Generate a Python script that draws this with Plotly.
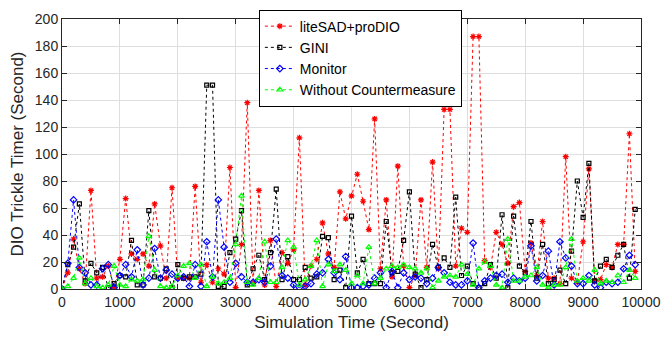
import plotly.graph_objects as go

# Simulation time (seconds): samples every 100 s
time_s = list(range(0, 10000, 100))

litesad_prodio = [0, 12, 37, 15, 4, 73, 8, 9, 17, 1,
                  22, 67, 26, 22, 26, 17, 63, 32, 8, 75,
                  8, 8, 8, 76, 5, 18, 5, 15, 11, 90,
                  1, 33, 138, 4, 73, 3, 36, 2, 27, 19,
                  29, 112, 3, 17, 22, 49, 26, 16, 72, 52,
                  69, 85, 65, 44, 126, 15, 66, 9, 91, 17,
                  1, 10, 66, 16, 94, 15, 133, 133, 17, 45,
                  42, 187, 187, 21, 16, 42, 33, 19, 61, 64,
                  13, 34, 10, 50, 8, 8, 4, 98, 8, 5,
                  35, 89, 6, 7, 18, 16, 33, 33, 115, 13]

gini = [0, 18, 31, 63, 6, 19, 12, 16, 1, 4,
        10, 9, 36, 3, 3, 58, 9, 8, 15, 1,
        18, 8, 9, 9, 11, 151, 151, 2, 2, 27,
        37, 58, 3, 15, 25, 7, 27, 74, 7, 24,
        7, 7, 16, 8, 9, 39, 38, 7, 14, 1,
        54, 12, 22, 4, 4, 4, 50, 12, 13, 36,
        72, 11, 1, 7, 33, 16, 23, 16, 68, 10,
        17, 4, 1, 4, 18, 8, 55, 1, 54, 17,
        12, 50, 8, 33, 4, 7, 14, 4, 28, 80,
        53, 93, 6, 17, 22, 16, 25, 33, 8, 59]

monitor = [0, 19, 66, 16, 12, 3, 3, 15, 18, 1,
           10, 18, 9, 29, 3, 8, 30, 8, 14, 11,
           8, 9, 2, 18, 2, 35, 9, 66, 31, 5,
           19, 9, 5, 5, 7, 5, 17, 37, 10, 8,
           3, 1, 2, 4, 11, 12, 22, 12, 7, 24,
           1, 1, 2, 3, 8, 12, 1, 13, 1, 12,
           7, 9, 8, 4, 8, 16, 12, 5, 3, 3,
           6, 34, 1, 6, 8, 10, 11, 5, 8, 6,
           8, 32, 6, 10, 28, 3, 35, 23, 17, 4,
           4, 10, 3, 1, 5, 4, 5, 15, 25, 18]

without_cm = [0, 2, 8, 23, 4, 8, 2, 1, 3, 17,
              3, 2, 7, 6, 7, 39, 14, 2, 1, 2,
              10, 17, 19, 8, 18, 2, 9, 4, 5, 8,
              33, 69, 5, 3, 8, 35, 5, 5, 16, 36,
              31, 3, 7, 17, 36, 2, 18, 13, 18, 14,
              4, 10, 4, 31, 4, 8, 15, 17, 16, 18,
              16, 15, 12, 15, 1, 6, 9, 10, 9, 18,
              11, 3, 15, 20, 17, 3, 1, 37, 6, 6,
              9, 10, 16, 3, 1, 3, 3, 16, 37, 6,
              8, 6, 14, 4, 6, 5, 10, 5, 14, 8]

series_names = ["liteSAD+proDIO", "GINI", "Monitor", "Without Countermeasure"]
x_ticks = list(range(0, 10001, 1000))
y_ticks = list(range(0, 201, 20))

styles = [
    dict(color="#FF0000", symbol="asterisk-open", size=5),
    dict(color="#000000", symbol="square-open", size=4),
    dict(color="#0000FF", symbol="diamond-open", size=5),
    dict(color="#00FF00", symbol="triangle-up-open", size=5),
]

fig = go.Figure()
for name, vals, st in zip(series_names, [litesad_prodio, gini, monitor, without_cm], styles):
    fig.add_trace(go.Scatter(
        x=time_s, y=vals, name=name, mode="lines+markers",
        line=dict(color=st["color"], width=1, dash="dot"),
        marker=dict(symbol=st["symbol"], size=st["size"], color=st["color"],
                    line=dict(color=st["color"], width=1.2)),
    ))

axis_common = dict(
    showline=True, linecolor="#262626", linewidth=1, mirror="ticks",
    ticks="inside", ticklen=5, tickcolor="#262626",
    showgrid=True, gridcolor="#dedede", gridwidth=1,
    zeroline=False,
    tickfont=dict(family="Liberation Sans, Arial", size=14, color="#262626"),
)

fig.update_xaxes(range=[0, 10000], tickvals=x_ticks, ticktext=[str(v) for v in x_ticks],
                 title=dict(text="Simulation Time (Second)", standoff=7,
                            font=dict(family="Liberation Sans, Arial", size=17, color="#262626")),
                 **axis_common)
fig.update_yaxes(range=[0, 200], tickvals=y_ticks, ticktext=[str(v) for v in y_ticks],
                 title=dict(text="DIO Trickle Timer (Second)", standoff=6,
                            font=dict(family="Liberation Sans, Arial", size=17, color="#262626")),
                 **axis_common)

fig.update_layout(
    width=671, height=339,
    margin=dict(l=62, r=21, t=10, b=50),
    paper_bgcolor="white", plot_bgcolor="white",
    font=dict(family="Liberation Sans, Arial", color="#000000"),
    legend=dict(x=0.34, xanchor="left", y=1.035, yanchor="top",
                bgcolor="white", bordercolor="#000000", borderwidth=1,
                font=dict(family="Liberation Sans, Arial", size=14, color="#000000"),
                tracegroupgap=0, itemwidth=30),
    showlegend=True,
)

fig.write_html("out.html")
